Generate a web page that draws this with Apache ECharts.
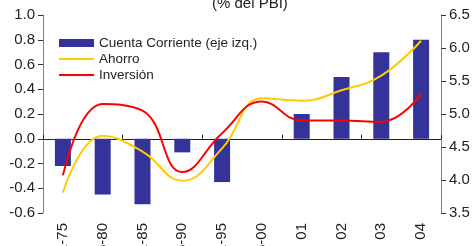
<!DOCTYPE html>
<html>
<head>
<meta charset="utf-8">
<script src="https://cdn.jsdelivr.net/npm/echarts@6/dist/echarts.min.js"></script>
<style>
  html, body { margin: 0; padding: 0; background: #fff; }
  #chart { width: 475px; height: 246px; }
</style>
</head>
<body>
<div id="chart"></div>
<script>
// periodos (promedios quinquenales y luego anual)
const periodos = ['71-75', '76-80', '81-85', '86-90', '91-95', '96-00', '01', '02', '03', '04'];
// cuenta corriente, eje izquierdo
const cuentaCorriente = [-0.22, -0.45, -0.53, -0.11, -0.35, null, 0.2, 0.5, 0.7, 0.8];
// ahorro e inversion, eje derecho
const ahorro = [3.81, 4.67, 4.43, 3.99, 4.48, 5.24, 5.2, 5.36, 5.58, 6.11];
const inversion = [4.07, 5.15, 5.05, 4.12, 4.71, 5.19, 4.9, 4.9, 4.88, 5.3];

const chart = echarts.init(document.getElementById('chart'));
const fuente = 'Liberation Sans, Arial, sans-serif';

const option = {
  animation: false,
  title: {
    text: '(% del PBI)',
    left: 207,
    top: -9,
    textStyle: { fontFamily: fuente, fontSize: 15, fontWeight: 'normal', color: '#222' }
  },
  legend: {
    orient: 'vertical',
    left: 58,
    top: 36,
    padding: 0,
    itemWidth: 35,
    itemHeight: 8,
    itemGap: 2,
    textStyle: { fontFamily: fuente, fontSize: 13.5, color: '#222' },
    data: [
      { name: 'Cuenta Corriente (eje izq.)', icon: 'rect' },
      { name: 'Ahorro', itemStyle: { opacity: 0 } },
      { name: 'Inversión', itemStyle: { opacity: 0 } }
    ]
  },
  grid: { left: 43, right: 34, top: 15, bottom: 33, outerBoundsMode: 'none', containLabel: false },
  xAxis: [
    {
      // linea del cero con marcas
      type: 'category',
      data: periodos,
      position: 'top',
      axisLine: { onZero: true, lineStyle: { color: '#222', width: 1 } },
      axisTick: { show: true, length: 4, lineStyle: { color: '#222' } },
      axisLabel: { show: false }
    },
    {
      // etiquetas abajo
      type: 'category',
      data: periodos,
      position: 'bottom',
      axisLine: { show: false, onZero: false },
      axisTick: { show: false },
      axisLabel: {
        rotate: 90,
        margin: 10,
        fontFamily: fuente,
        fontSize: 15,
        color: '#222'
      }
    }
  ],
  yAxis: [
    {
      type: 'value',
      min: -0.6,
      max: 1.0,
      interval: 0.2,
      splitLine: { show: false },
      axisLine: { show: true, lineStyle: { color: '#808080' } },
      axisTick: { show: true, length: 5, lineStyle: { color: '#333' } },
      axisLabel: {
        margin: 8,
        fontFamily: fuente,
        fontSize: 15,
        color: '#222',
        formatter: v => v.toFixed(1)
      }
    },
    {
      type: 'value',
      min: 3.5,
      max: 6.5,
      interval: 0.5,
      splitLine: { show: false },
      axisLine: { show: true, lineStyle: { color: '#808080' } },
      axisTick: { show: true, length: 5, lineStyle: { color: '#333' } },
      axisLabel: {
        margin: 8,
        fontFamily: fuente,
        fontSize: 15,
        color: '#222',
        formatter: v => v.toFixed(1)
      }
    }
  ],
  series: [
    {
      name: 'Cuenta Corriente (eje izq.)',
      type: 'bar',
      yAxisIndex: 0,
      data: cuentaCorriente,
      barWidth: 16,
      itemStyle: { color: '#333399' }
    },
    {
      name: 'Ahorro',
      type: 'line',
      yAxisIndex: 1,
      data: ahorro,
      smooth: 0.45,
      symbol: 'none',
      lineStyle: { color: '#FFCC00', width: 2 },
      itemStyle: { color: '#FFCC00' }
    },
    {
      name: 'Inversión',
      type: 'line',
      yAxisIndex: 1,
      data: inversion,
      smooth: 0.45,
      symbol: 'none',
      lineStyle: { color: '#FF0000', width: 2 },
      itemStyle: { color: '#FF0000' }
    }
  ]
};

chart.setOption(option);
</script>
</body>
</html>
